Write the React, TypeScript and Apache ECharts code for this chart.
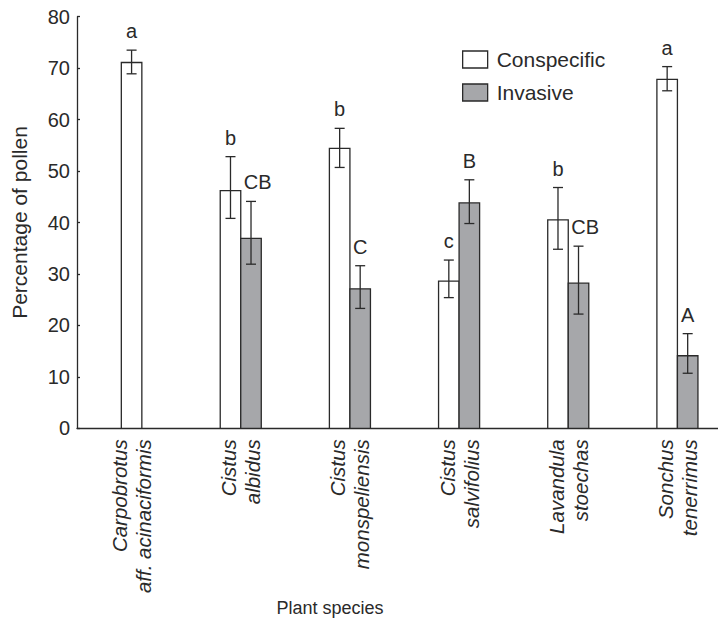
import React, { useEffect, useRef } from 'react';
import * as echarts from 'echarts';

const categories = [
  'Carpobrotus\naff. acinaciformis',
  'Cistus\nalbidus',
  'Cistus\nmonspeliensis',
  'Cistus\nsalvifolius',
  'Lavandula\nstoechas',
  'Sonchus\ntenerrimus',
];

const conspecific = [71.1, 46.2, 54.4, 28.6, 40.5, 67.8];
const conspecificLow = [68.9, 40.8, 50.7, 25.4, 34.8, 65.6];
const conspecificHigh = [73.5, 52.8, 58.3, 32.7, 46.8, 70.3];
const conspecificLetters = ['a', 'b', 'b', 'c', 'b', 'a'];

const invasive: (number | null)[] = [null, 36.9, 27.1, 43.8, 28.2, 14.1];
const invasiveLow: (number | null)[] = [null, 31.9, 23.3, 39.8, 22.2, 10.7];
const invasiveHigh: (number | null)[] = [null, 44.1, 31.6, 48.3, 35.4, 18.4];
const invasiveLetters = ['', 'CB', 'C', 'B', 'CB', 'A'];

const yTicks = { min: 0, max: 80, interval: 10 };

const FONT = '"Liberation Sans", Arial, Helvetica, sans-serif';
const INK = '#2a2a2a';
const GRAY = '#a6a7aa';

export default function App() {
  const ref = useRef<HTMLDivElement>(null);

  useEffect(() => {
    const chart = echarts.init(ref.current as HTMLDivElement, null, { renderer: 'svg' });

    const makeSeries = (
      name: string,
      values: (number | null)[],
      lows: (number | null)[],
      highs: (number | null)[],
      letters: string[],
      fill: string,
      isInvasive: boolean
    ) => ({
      type: 'custom',
      name,
      clip: false,
      itemStyle: { color: fill, borderColor: INK, borderWidth: 1.3 },
      encode: { x: 0, y: 1 },
      data: values
        .map((v, i) => (v == null ? null : [i, v, lows[i], highs[i]]))
        .filter((d) => d != null),
      renderItem: (params: any, api: any) => {
        const i = api.value(0);
        const v = api.value(1);
        const lo = api.value(2);
        const hi = api.value(3);
        const base = api.coord([i, 0]);
        const top = api.coord([i, v]);
        const band = api.size([1, 0])[0];
        const bw = band * 0.188;
        const paired = invasive[i] != null && conspecific[i] != null;
        let x0: number;
        if (!paired) x0 = base[0] - bw / 2;
        else x0 = isInvasive ? base[0] : base[0] - bw;
        const cx = x0 + bw / 2;
        const yHi = api.coord([i, hi])[1];
        const yLo = api.coord([i, lo])[1];
        const cap = 5;
        const letter = letters[i];
        const lineStyle = { stroke: INK, lineWidth: 1.3 };
        const children: any[] = [
          {
            type: 'rect',
            shape: { x: x0, y: top[1], width: bw, height: base[1] - top[1] },
            style: { fill, stroke: INK, lineWidth: 1.3 },
          },
          { type: 'line', shape: { x1: cx, y1: yHi, x2: cx, y2: yLo }, style: lineStyle },
          { type: 'line', shape: { x1: cx - cap, y1: yHi, x2: cx + cap, y2: yHi }, style: lineStyle },
          { type: 'line', shape: { x1: cx - cap, y1: yLo, x2: cx + cap, y2: yLo }, style: lineStyle },
        ];
        if (letter) {
          const multi = letter.length > 1;
          children.push({
            type: 'text',
            style: {
              text: letter,
              x: multi ? x0 + 3 : cx,
              y: yHi - 9,
              fill: INK,
              fontSize: 20,
              fontFamily: FONT,
              align: multi ? 'left' : 'center',
              verticalAlign: 'bottom',
            },
          });
        }
        return { type: 'group', children };
      },
    });

    chart.setOption({
      animation: false,
      backgroundColor: '#ffffff',
      grid: { left: 77, top: 16.7, width: 655, height: 411.6, outerBoundsMode: 'none', containLabel: false },
      legend: {
        orient: 'vertical',
        left: 462,
        top: 49,
        padding: 0,
        itemWidth: 25,
        itemHeight: 17,
        itemGap: 12,
        textStyle: { fontSize: 21, color: INK, fontFamily: FONT, padding: [0, 0, 0, 4] },
        data: [
          { name: 'Conspecific', icon: 'rect', itemStyle: { color: '#ffffff', borderColor: INK, borderWidth: 1.3 } },
          { name: 'Invasive', icon: 'rect', itemStyle: { color: GRAY, borderColor: INK, borderWidth: 1.3 } },
        ],
      },
      xAxis: {
        type: 'category',
        data: categories,
        axisLine: { show: true, lineStyle: { color: INK, width: 1.3 } },
        axisTick: { show: false },
        axisLabel: {
          interval: 0,
          rotate: 90,
          margin: 11,
          fontSize: 20.5,
          fontStyle: 'italic',
          fontFamily: FONT,
          color: INK,
          lineHeight: 24,
        },
        splitLine: { show: false },
      },
      yAxis: {
        type: 'value',
        min: yTicks.min,
        max: yTicks.max,
        interval: yTicks.interval,
        name: 'Percentage of pollen',
        nameLocation: 'middle',
        nameGap: 47,
        nameTextStyle: { fontSize: 21, fontFamily: FONT, color: INK },
        axisLine: { show: true, lineStyle: { color: INK, width: 1.3 } },
        axisTick: { show: true, inside: true, length: 3, lineStyle: { color: INK, width: 1.3 } },
        axisLabel: { fontSize: 20, fontFamily: FONT, color: INK, margin: 7 },
        splitLine: { show: false },
      },
      graphic: [
        {
          type: 'text',
          x: 330,
          y: 608,
          style: {
            text: 'Plant species',
            fontSize: 18,
            fontFamily: FONT,
            fill: INK,
            align: 'center',
            verticalAlign: 'middle',
          },
        },
      ],
      series: [
        makeSeries('Conspecific', conspecific, conspecificLow, conspecificHigh, conspecificLetters, '#ffffff', false),
        makeSeries('Invasive', invasive, invasiveLow, invasiveHigh, invasiveLetters, GRAY, true),
      ],
    });

    return () => {
      chart.dispose();
    };
  }, []);

  return (
    <div
      ref={ref}
      style={{ position: 'absolute', left: 0, top: 0, width: 718, height: 626, background: '#fff' }}
    />
  );
}
